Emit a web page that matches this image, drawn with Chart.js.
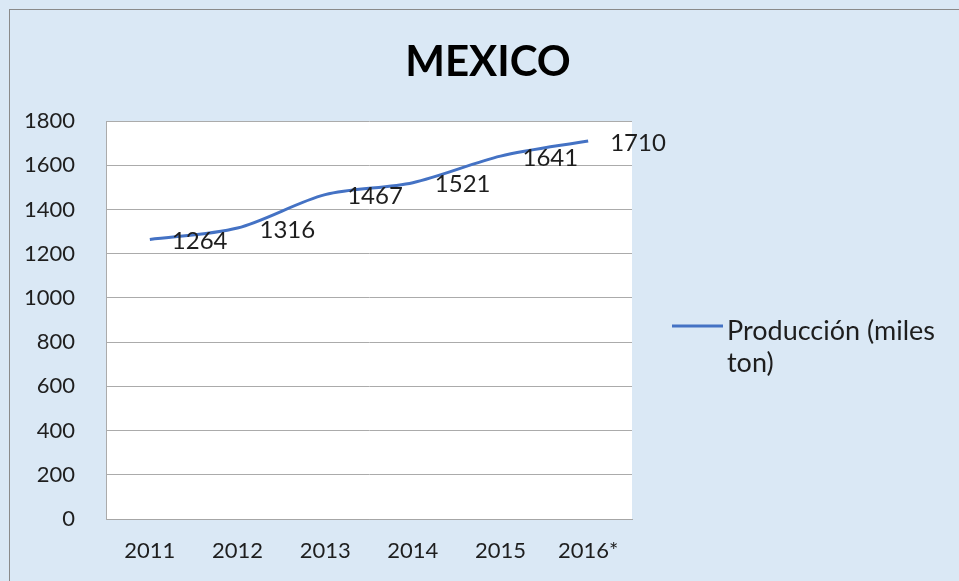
<!DOCTYPE html>
<html>
<head>
<meta charset="utf-8">
<script src="https://cdn.jsdelivr.net/npm/chart.js@4.4.1/dist/chart.umd.min.js"></script>
<style>
  html, body { margin: 0; padding: 0; background: #dae8f5; }
  #wrap { width: 959px; height: 581px; }
</style>
</head>
<body>
<div id="wrap"><canvas id="chart" width="959" height="581"></canvas></div>
<script>
const years = ['2011', '2012', '2013', '2014', '2015', '2016*'];
const produccion = [1264, 1316, 1467, 1521, 1641, 1710];
const seriesName = 'Producción (miles ton)';
const legendLines = ['Producción (miles', 'ton)'];
const chartTitle = 'MEXICO';

const FONT = 'Lato, "Open Sans", sans-serif';
const LINE_COLOR = '#4472C4';

// background, frame and white plot area
const backdrop = {
    id: 'backdrop',
    beforeDraw(chart) {
        const ctx = chart.ctx;
        const a = chart.chartArea;
        ctx.save();
        ctx.fillStyle = '#dae8f5';
        ctx.fillRect(0, 0, chart.width, chart.height);
        ctx.strokeStyle = '#8a8a8a';
        ctx.lineWidth = 1;
        ctx.strokeRect(9.5, 9.5, chart.width + 20, chart.height + 20);
        ctx.fillStyle = '#ffffff';
        ctx.fillRect(a.left, a.top, a.right - a.left, a.bottom - a.top);
        ctx.restore();
    }
};

// title, data labels and the wrapped legend
const extras = {
    id: 'extras',
    afterDatasetsDraw(chart) {
        const ctx = chart.ctx;
        ctx.save();
        ctx.fillStyle = '#000000';
        ctx.font = 'bold 42px ' + FONT;
        ctx.textAlign = 'center';
        ctx.textBaseline = 'middle';
        ctx.fillText(chartTitle, 488, 62);

        const meta = chart.getDatasetMeta(0);
        ctx.font = '24px ' + FONT;
        ctx.fillStyle = '#1e1e1e';
        ctx.textAlign = 'left';
        meta.data.forEach((pt, i) => {
            ctx.fillText(String(produccion[i]), pt.x + 22, pt.y + 2);
        });

        ctx.strokeStyle = LINE_COLOR;
        ctx.lineWidth = 3;
        ctx.beginPath();
        ctx.moveTo(672, 326);
        ctx.lineTo(723, 326);
        ctx.stroke();
        ctx.font = '27px ' + FONT;
        ctx.fillStyle = '#1e1e1e';
        legendLines.forEach((t, i) => ctx.fillText(t, 727, 331 + i * 32));
        ctx.restore();
    }
};

new Chart(document.getElementById('chart').getContext('2d'), {
    type: 'line',
    data: {
        labels: years,
        datasets: [{
            label: seriesName,
            data: produccion,
            borderColor: LINE_COLOR,
            borderWidth: 3,
            pointRadius: 0,
            tension: 0.3,
            fill: false
        }]
    },
    options: {
        responsive: false,
        animation: false,
        layout: { padding: { left: 0, top: 121, right: 327, bottom: 0 } },
        plugins: {
            legend: { display: false },
            title: { display: false },
            tooltip: { enabled: false }
        },
        scales: {
            x: {
                offset: true,
                grid: { display: false, drawTicks: false },
                border: { display: true, color: '#a6a6a6', width: 1 },
                ticks: { color: '#1e1e1e', font: { family: FONT, size: 22 }, padding: 19, maxRotation: 0 },
                afterFit(scale) { scale.height = 62; }
            },
            y: {
                min: 0,
                max: 1800,
                ticks: {
                    stepSize: 200,
                    color: '#1e1e1e',
                    font: { family: FONT, size: 22 },
                    padding: 31,
                    callback: v => String(v)
                },
                grid: { color: '#ababab', drawTicks: false },
                border: { display: true, color: '#ababab', width: 1 },
                afterFit(scale) { scale.width = 106; }
            }
        }
    },
    plugins: [backdrop, extras]
});
</script>
</body>
</html>
